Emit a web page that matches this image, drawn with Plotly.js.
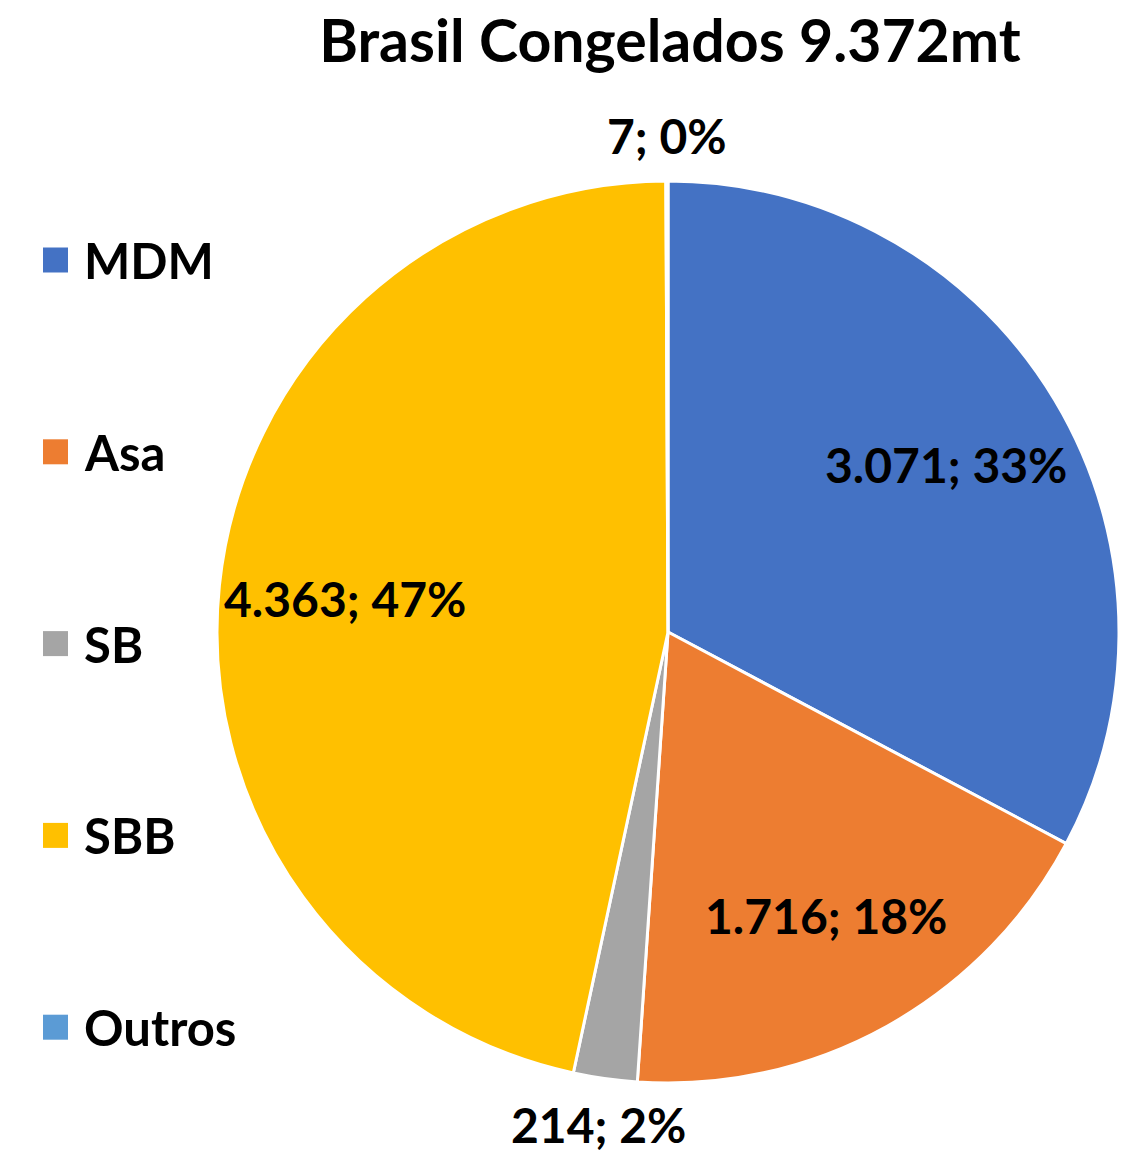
<!DOCTYPE html>
<html>
<head>
<meta charset="utf-8">
<script src="https://cdn.plot.ly/plotly-3.0.1.min.js"></script>
<style>html,body{margin:0;padding:0;background:#fff;}#chart{width:1134px;height:1152px;}</style>
</head>
<body>
<div id="chart"></div>
<script>
const categories = ['MDM', 'Asa', 'SB', 'SBB', 'Outros'];
const values = [3071, 1716, 214, 4363, 7];
const colors = ['#4472C4', '#ED7D31', '#A5A5A5', '#FFC000', '#5B9BD5'];
const labelOutside = [false, false, true, false, true];
const titleText = 'Brasil Congelados 9.372mt';

const W = 1134, H = 1152;
const FONT = 'Lato, "Open Sans", sans-serif';
const px = x => x / W;
const py = y => 1 - y / H;

// pie geometry (pixels)
const cx = 668, cy = 632, R = 451;

function fmtThousands(v) {
  return String(v).replace(/\B(?=(\d{3})+(?!\d))/g, '.');
}

const trace = {
  type: 'pie',
  labels: categories,
  values: values,
  sort: false,
  direction: 'clockwise',
  rotation: 0,
  marker: { colors: colors, line: { color: '#ffffff', width: 3 } },
  textposition: 'none',
  domain: { x: [px(cx - R), px(cx + R)], y: [py(cy + R), py(cy - R)] },
  showlegend: false,
  hoverinfo: 'label+value+percent'
};

const shapes = [], annotations = [];

// data labels, placed along each slice's mid-angle (computed from the values)
const total = values.reduce((a, b) => a + b, 0);
let cum = 0;
values.forEach((v, i) => {
  const mid = (cum + v / 2) / total * 2 * Math.PI; // clockwise from 12 o'clock
  cum += v;
  const r = labelOutside[i] ? R + 46 : 0.72 * R;
  const x = cx + r * Math.sin(mid);
  const y = cy - r * Math.cos(mid);
  annotations.push({
    xref: 'paper', yref: 'paper', x: px(x), y: py(y),
    xanchor: 'center', yanchor: 'middle', showarrow: false,
    text: fmtThousands(v) + '; ' + Math.round(v / total * 100) + '%',
    font: { family: FONT, size: 48, color: '#000000', weight: 700 }
  });
});

// manual legend (large square markers, wide spacing as in the reference)
const legLeft = 43, legBox = 25, legFirst = 260, legStep = 191.8, legTextX = 82;
categories.forEach((c, i) => {
  const yc = legFirst + i * legStep;
  shapes.push({
    type: 'rect', xref: 'paper', yref: 'paper',
    x0: px(legLeft), x1: px(legLeft + legBox),
    y0: py(yc + legBox / 2), y1: py(yc - legBox / 2),
    fillcolor: colors[i], line: { width: 0 }
  });
  annotations.push({
    xref: 'paper', yref: 'paper', x: px(legTextX), y: py(yc),
    xanchor: 'left', yanchor: 'middle', showarrow: false,
    text: c, font: { family: FONT, size: 49, color: '#000000', weight: 700 }
  });
});

const layout = {
  width: W, height: H,
  margin: { l: 0, r: 0, t: 0, b: 0 },
  paper_bgcolor: '#ffffff',
  title: {
    text: titleText,
    font: { family: FONT, size: 59, color: '#000000', weight: 700 },
    x: px(670), xanchor: 'center', y: py(41), yanchor: 'middle'
  },
  showlegend: false,
  shapes: shapes,
  annotations: annotations
};

Plotly.newPlot('chart', [trace], layout, { displayModeBar: false });
</script>
</body>
</html>
